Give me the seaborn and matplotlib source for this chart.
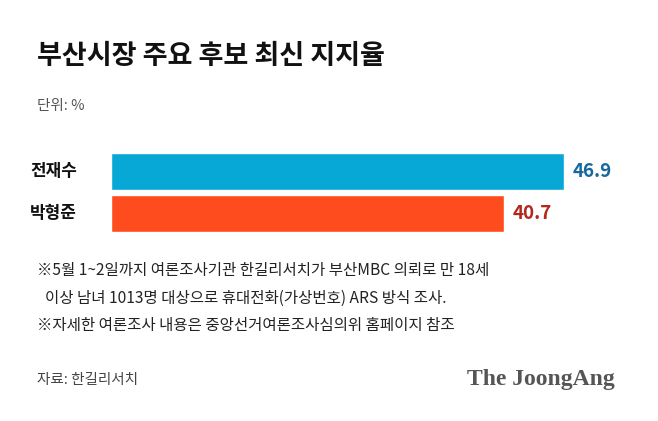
import pandas as pd
import matplotlib.pyplot as plt
import seaborn as sns

# 데이터
후보 = ["전재수", "박형준"]
지지율 = [46.9, 40.7]
막대색 = ["#07A7D6", "#FF4C1E"]
값색 = ["#17689F", "#B5261C"]

sns.set_theme(style="white")
plt.rcParams['font.family'] = ['Noto Sans CJK KR', 'DejaVu Sans']

fig = plt.figure(figsize=(6.58, 4.21), dpi=100)
fig.patch.set_facecolor("white")

# 막대 영역 (픽셀 기준으로 위치 맞춤)
W, H = 658, 421
ax = fig.add_axes([111 / W, 1 - 236 / H, 529 / W, 86 / H])

df = pd.DataFrame({"후보": 후보, "지지율": 지지율})
sns.barplot(data=df, x="지지율", y="후보", hue="후보", palette=막대색,
            width=0.88, legend=False, ax=ax, saturation=1)

ax.set_xlim(0, 529 / 9.66)
ax.set_ylim(1.536, -0.512)
ax.axis("off")

for i, (v, c) in enumerate(zip(지지율, 값색)):
    ax.text(v + 0.9, i, f"{v}", color=c, fontsize=13.5, fontweight="bold",
            va="center", ha="left")
    ax.text(-3.5, i, 후보[i], color="#111111", fontsize=12.2, fontweight="bold",
            va="center", ha="right")

# 제목과 주석
fig.text(37 / W, 1 - 56 / H, "부산시장 주요 후보 최신 지지율", fontsize=19.5,
         fontweight="black", color="#111111", va="center", ha="left")
fig.text(37 / W, 1 - 106 / H, "단위: %", fontsize=10.5, color="#555555",
         va="center", ha="left")

주석 = [
    (37, 270, "※5월 1~2일까지 여론조사기관 한길리서치가 부산MBC 의뢰로 만 18세"),
    (45, 298, "이상 남녀 1013명 대상으로 휴대전화(가상번호) ARS 방식 조사."),
    (37, 325, "※자세한 여론조사 내용은 중앙선거여론조사심의위 홈페이지 참조"),
]
for x, y, s in 주석:
    fig.text(x / W, 1 - y / H, s, fontsize=11.2, color="#222222",
             va="center", ha="left")

fig.text(37 / W, 1 - 380 / H, "자료: 한길리서치", fontsize=10.5, color="#444444",
         va="center", ha="left")
fig.text(615 / W, 1 - 379 / H, "The JoongAng", fontsize=17, fontweight="bold",
         family=["Liberation Serif", "DejaVu Serif"], color="#555555",
         va="center", ha="right")

plt.savefig("out.png", dpi=100, facecolor="white")
plt.close()
